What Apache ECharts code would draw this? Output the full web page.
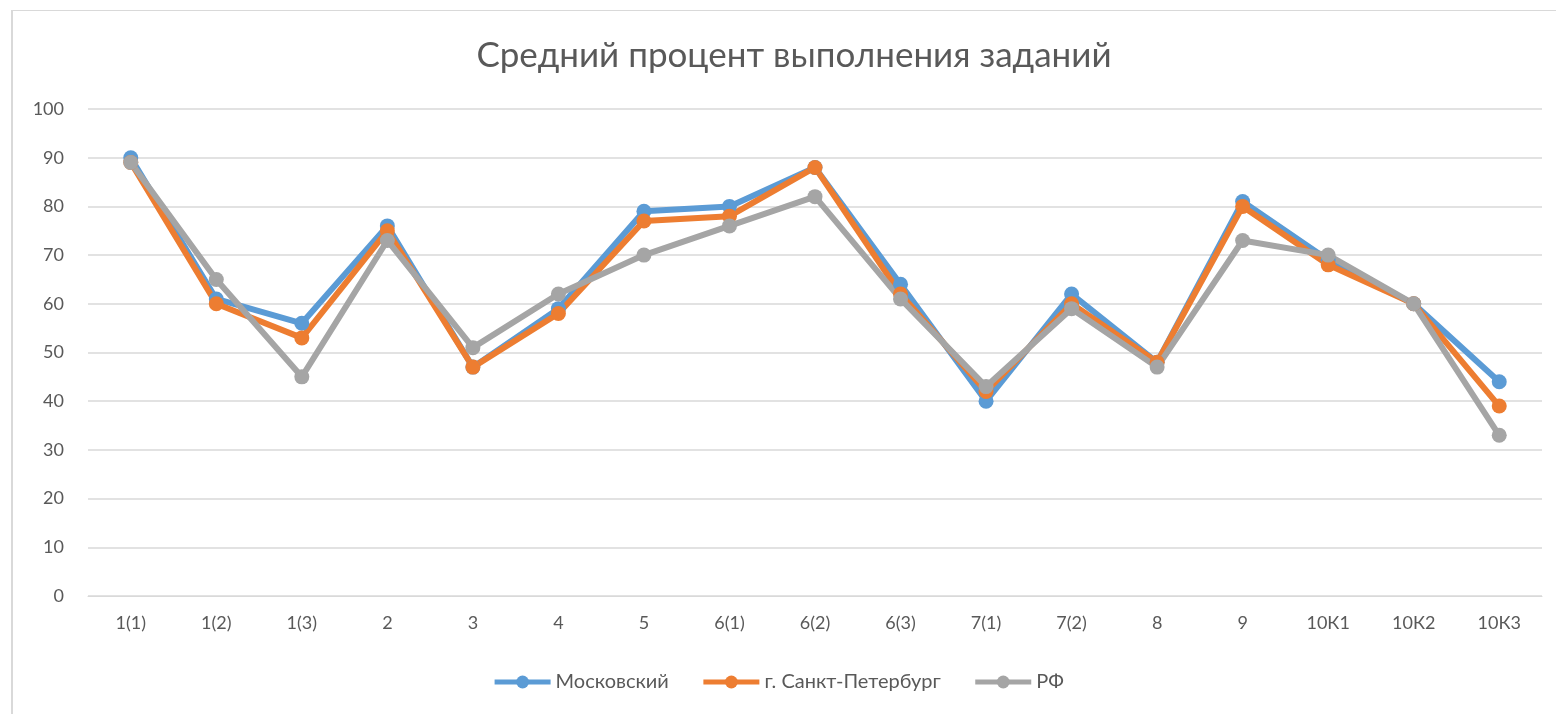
<!DOCTYPE html>
<html><head><meta charset="utf-8">
<script src="https://cdn.jsdelivr.net/npm/echarts@6/dist/echarts.min.js"></script>
<style>
html,body{margin:0;padding:0;background:#fff;}
#frame{position:absolute;left:11px;top:10px;width:1600px;height:800px;border-top:1px solid #d9d9d9;border-left:2px solid #d9d9d9;}
#c{position:absolute;left:0;top:0;width:1556px;height:714px;}
</style></head><body>
<div id="frame"></div>
<div id="c"></div>
<script>
const categories = ['1(1)','1(2)','1(3)','2','3','4','5','6(1)','6(2)','6(3)','7(1)','7(2)','8','9','10К1','10К2','10К3'];
const moscow = [90,61,56,76,47,59,79,80,88,64,40,62,48,81,69,60,44];
const spb    = [89,60,53,75,47,58,77,78,88,62,42,60,48,80,68,60,39];
const rf     = [89,65,45,73,51,62,70,76,82,61,43,59,47,73,70,60,33];
const seriesNames = ['Московский','г. Санкт-Петербург','РФ'];
const colors = ['#5B9BD5','#ED7D31','#A5A5A5'];
const font = 'Lato, "Open Sans", sans-serif';
const chart = echarts.init(document.getElementById('c'));
function mk(name, data, color){
  return {name, type:'line', data, symbol:'circle', symbolSize:15,
    lineStyle:{width:6,color}, itemStyle:{color}, emphasis:{disabled:true}};
}
chart.setOption({
  animation:false,
  color:colors,
  title:{text:'Средний процент выполнения заданий', left:789, top:33,
    textAlign:'center',
    textStyle:{fontFamily:font,fontSize:35,fontWeight:'normal',color:'#595959'}},
  grid:{left:88,right:14,top:109,bottom:118,containLabel:false},
  legend:{bottom:17,left:'center',itemWidth:56,itemHeight:16,itemGap:32,
    lineStyle:{width:5},
    textStyle:{fontFamily:font,fontSize:20,color:'#595959'},
    data:seriesNames},
  xAxis:{type:'category',data:categories,boundaryGap:true,
    axisLine:{lineStyle:{color:'#d9d9d9',width:1}},axisTick:{show:false},
    axisLabel:{fontFamily:font,fontSize:18,color:'#595959',margin:18}},
  yAxis:{type:'value',min:0,max:100,interval:10,
    axisLine:{show:false},axisTick:{show:false},
    splitLine:{lineStyle:{color:'#d9d9d9',width:1.5}},
    axisLabel:{fontFamily:font,fontSize:18,color:'#595959',margin:24}},
  series:[mk(seriesNames[0],moscow,colors[0]),mk(seriesNames[1],spb,colors[1]),mk(seriesNames[2],rf,colors[2])]
});
</script></body></html>
